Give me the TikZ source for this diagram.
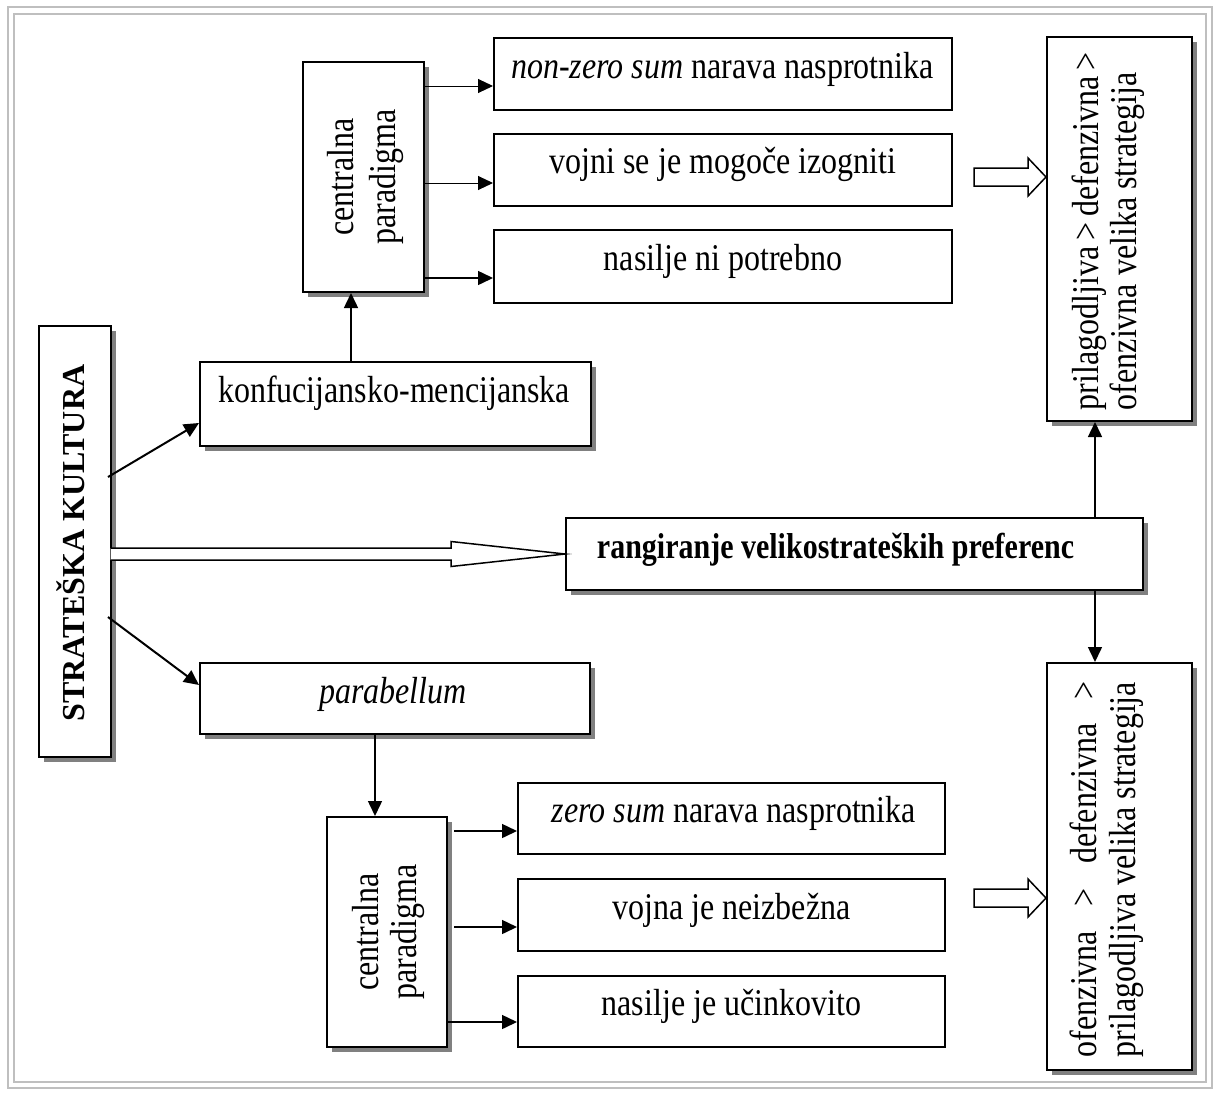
\documentclass[tikz,border=0pt]{standalone}
\usepackage{fontspec}
\setmainfont{Liberation Serif}
\usepackage{graphicx}
\usetikzlibrary{arrows.meta,calc,shadows}
\newcommand\vstr[1]{\scalebox{1}[1.18]{#1}}
\tikzset{
 box/.style={draw=black, line width=2pt, fill=white, inner sep=0pt,
   drop shadow={shadow xshift=5pt, shadow yshift=-5pt, fill=black!50, opacity=1}},
 plainbox/.style={draw=black, line width=2pt, fill=white, inner sep=0pt},
 lbl/.style={inner sep=0pt, font=\fontsize{32}{37}\selectfont, text height=22pt, text depth=7pt},
 vlbl/.style={inner sep=0pt, rotate=90},
 arr/.style={line width=1.5pt, -{Triangle[length=15pt,width=14pt]}},
 thinarr/.style={line width=1pt, -{Triangle[length=15pt,width=14pt]}},
 hollow/.style={draw=black, line width=1.5pt, fill=white, line join=miter},
 frame/.style={draw=black!25, line width=2.2pt}
}
\begin{document}
\begin{tikzpicture}[x=1pt,y=-1pt]
\useasboundingbox (0,0) rectangle (1220,1095);
\draw[frame] (8,7) rectangle (1212,1088);
\draw[frame] (14,14) rectangle (1206,1082);

% boxes
\node[box, minimum width=72pt, minimum height=431pt] (sk) at (75,541.5) {};
\node[box, minimum width=391pt, minimum height=84pt] (konf) at (395.5,404) {};
\node[box, minimum width=121pt, minimum height=230pt] (c1) at (363.5,177) {};
\node[plainbox, minimum width=458pt, minimum height=72pt] (n1) at (723,74) {};
\node[plainbox, minimum width=458pt, minimum height=72pt] (n2) at (723,170) {};
\node[plainbox, minimum width=458pt, minimum height=73pt] (n3) at (723,266.5) {};
\node[box, minimum width=145pt, minimum height=384pt] (tr) at (1119.5,229) {};
\node[box, minimum width=577pt, minimum height=72pt] (rang) at (854.5,554) {};
\node[box, minimum width=390pt, minimum height=71pt] (para) at (395,698.5) {};
\node[box, minimum width=120pt, minimum height=230pt] (c2) at (387,932) {};
\node[plainbox, minimum width=427pt, minimum height=71pt] (z1) at (731.5,818.5) {};
\node[plainbox, minimum width=427pt, minimum height=72pt] (z2) at (731.5,915) {};
\node[plainbox, minimum width=427pt, minimum height=71pt] (z3) at (731.5,1011.5) {};
\node[box, minimum width=145pt, minimum height=407pt] (br) at (1119.5,866.5) {};

% texts
\node[lbl] (tn1) at (722.5,70.5) {\vstr{\textit{non-zero sum} narava nasprotnika}};
\node[lbl] (tn2) at (723,165.5) {\vstr{vojni se je mogoče izogniti}};
\node[lbl] (tn3) at (723,262.5) {\vstr{nasilje ni potrebno}};
\node[lbl] (tkonf) at (394,394.5) {\vstr{konfucijansko-mencijanska}};
\node[lbl, font=\fontsize{30}{36}\selectfont\bfseries] (trang) at (835.5,550.5) {\scalebox{1}[1.2]{rangiranje velikostrateških preferenc}};
\node[lbl] (tpara) at (393,695.5) {\vstr{\textit{parabellum}}};
\node[lbl] (tz1) at (734,815) {\vstr{\textit{zero sum} narava nasprotnika}};
\node[lbl] (tz2) at (731.5,911.5) {\vstr{vojna je neizbežna}};
\node[lbl] (tz3) at (731.5,1008) {\vstr{nasilje je učinkovito}};

\node[vlbl, font=\fontsize{32}{37}\selectfont\bfseries, text height=21pt, text depth=0pt] (tsk) at (74,543) {STRATEŠKA KULTURA};
\node[vlbl, font=\fontsize{32}{35.6}\selectfont] (tc1) at (366,177) {\vstr{\begin{tabular}{@{}c@{}}centralna\\paradigma\end{tabular}}};
\node[vlbl, font=\fontsize{32}{32.2}\selectfont] (tc2) at (390,932) {\vstr{\begin{tabular}{@{}c@{}}centralna\\paradigma\end{tabular}}};
\node[vlbl, font=\fontsize{32}{31.4}\selectfont] (ttr) at (1109.5,231) {\vstr{\begin{tabular}{@{}l@{}}\makebox[358pt][s]{prilagodljiva > defenzivna >}\\ofenzivna velika strategija\end{tabular}}};
\node[vlbl, font=\fontsize{32}{33}\selectfont] (tbr) at (1108.5,869) {\vstr{\begin{tabular}{@{}l@{}}\makebox[376pt][s]{ofenzivna > defenzivna >}\\prilagodljiva velika strategija\end{tabular}}};

% connectors
\draw[line width=2pt, -{Triangle[length=15pt,width=14pt]}] ($(sk.east)+(-4,-64.5)$) -- ($(konf.west)+(0,19)$);
\draw[line width=2pt, -{Triangle[length=15pt,width=14pt]}] ($(sk.east)+(-4,75.5)$) -- ($(para.west)+(0,-13.5)$);
\draw[arr] ($(konf.north)+(-44.5,0)$) -- ($(c1.south)+(-12.5,0)$);
\draw[arr] ($(para.south)+(-20,0)$) -- ($(c2.north)+(-12,0)$);

\draw[thinarr] ($(c1.east |- n1.west)+(0,12)$) -- ($(n1.west)+(0,12)$);
\draw[thinarr] ($(c1.east |- n2.west)+(0,13)$) -- ($(n2.west)+(0,13)$);
\draw[arr] ($(c1.east |- n3.west)+(0,11.5)$) -- ($(n3.west)+(0,11.5)$);

\draw[arr] ($(c2.east |- z1.west)+(6,12.5)$) -- ($(z1.west)+(0,12.5)$);
\draw[arr] ($(c2.east |- z2.west)+(6,12)$) -- ($(z2.west)+(0,12)$);
\draw[arr] ($(c2.east |- z3.west)+(0,10.5)$) -- ($(z3.west)+(0,10.5)$);

\draw[arr] ($(rang.north)+(240.5,0)$) coordinate (u) -- (u |- tr.south);
\draw[arr] ($(rang.south)+(240.5,0)$) coordinate (d) -- (d |- br.north);

% hollow arrows
\coordinate (ha1) at ($(tr.west |- n2.east)+(0,7)$);
\path[hollow] ($(ha1)+(-72,-9)$) -- ($(ha1)+(-18,-9)$) -- ($(ha1)+(-18,-19)$) -- (ha1) -- ($(ha1)+(-18,19)$) -- ($(ha1)+(-18,9)$) -- ($(ha1)+(-72,9)$) -- cycle;
\coordinate (ha2) at ($(br.west |- z2.east)+(0,-17)$);
\path[hollow] ($(ha2)+(-72,-9)$) -- ($(ha2)+(-18,-9)$) -- ($(ha2)+(-18,-19)$) -- (ha2) -- ($(ha2)+(-18,19)$) -- ($(ha2)+(-18,9)$) -- ($(ha2)+(-72,9)$) -- cycle;
\coordinate (hb) at (rang.west);
\path[hollow] ($(sk.east |- hb)+(-1.5,-6)$) -- ($(hb)+(-114,-6)$) -- ($(hb)+(-114,-12.5)$) -- (hb) -- ($(hb)+(-114,12.5)$) -- ($(hb)+(-114,6)$) -- ($(sk.east |- hb)+(-1.5,6)$);
\end{tikzpicture}
\end{document}
